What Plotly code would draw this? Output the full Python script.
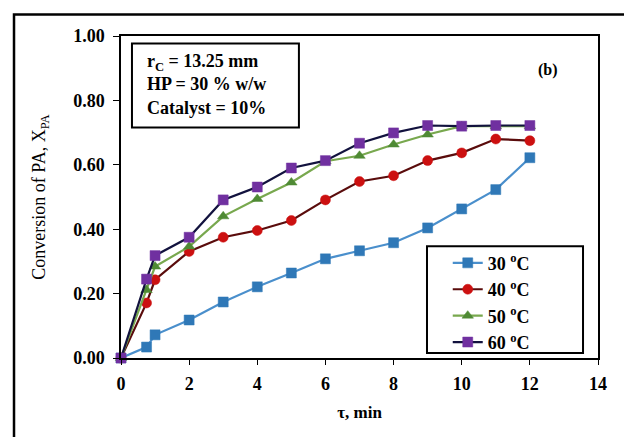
import plotly.graph_objects as go

tau = [0, 0.75, 1, 2, 3, 4, 5, 6, 7, 8, 9, 10, 11, 12]
x30 = [0, 0.034, 0.072, 0.118, 0.174, 0.221, 0.264, 0.308, 0.333, 0.358, 0.404, 0.463, 0.523, 0.622]
x40 = [0, 0.171, 0.243, 0.331, 0.375, 0.396, 0.427, 0.491, 0.548, 0.566, 0.613, 0.637, 0.680, 0.675]
x50 = [0, 0.211, 0.284, 0.346, 0.440, 0.494, 0.545, 0.611, 0.628, 0.663, 0.694, 0.720, 0.720, 0.720]
x60 = [0, 0.245, 0.318, 0.375, 0.491, 0.531, 0.590, 0.613, 0.667, 0.699, 0.722, 0.720, 0.722, 0.722]

series_names = ["30 <sup>o</sup>C", "40 <sup>o</sup>C", "50 <sup>o</sup>C", "60 <sup>o</sup>C"]
series_vals = [x30, x40, x50, x60]
line_colors = ["#4a8fcc", "#5a0c0c", "#78a84e", "#12123e"]
marker_colors = ["#2f78b7", "#cc1010", "#4f8a34", "#7030a0"]
marker_symbols = ["square", "circle", "triangle-up", "square"]

FONT = "Liberation Serif"

fig = go.Figure()
for name, vals, lc, mc, sym in zip(series_names, series_vals, line_colors, marker_colors, marker_symbols):
    fig.add_trace(go.Scatter(
        x=tau, y=vals, name=name, mode="lines+markers",
        line=dict(color=lc, width=2.2),
        marker=dict(symbol=sym, size=10, color=mc, line=dict(color=mc, width=0.5)),
        cliponaxis=False,
    ))

fig.update_layout(
    width=624, height=437,
    margin=dict(l=121, r=26, t=36, b=79),
    paper_bgcolor="white", plot_bgcolor="white",
    font=dict(family=FONT, color="black", size=16),
    showlegend=True,
    legend=dict(
        x=0.685, y=0.352, xanchor="left", yanchor="top",
        borderwidth=0, bgcolor="rgba(0,0,0,0)",
        font=dict(family=FONT, size=18, color="black", weight="bold"),
        itemwidth=30, tracegroupgap=0,
    ),
    xaxis=dict(
        range=[0, 14], dtick=2, tick0=0, showgrid=False, zeroline=False,
        showline=True, linecolor="black", linewidth=1.5, mirror=True,
        ticks="outside", ticklen=5, tickcolor="black", ticklabelstandoff=4,
        tickfont=dict(family=FONT, size=18, color="black", weight="bold"),
        title=dict(text="τ, min", font=dict(family=FONT, size=17, color="black", weight="bold"), standoff=13),
    ),
    yaxis=dict(
        range=[0, 1], dtick=0.2, tick0=0, tickformat=".2f", showgrid=False, zeroline=False,
        showline=True, linecolor="black", linewidth=1.5, mirror=True,
        ticks="outside", ticklen=6, tickcolor="black", ticklabelstandoff=5,
        tickfont=dict(family=FONT, size=18, color="black", weight="bold"),
        title=dict(text="Conversion of PA, X<sub>PA</sub>", font=dict(family=FONT, size=18, color="black"), standoff=23),
    ),
)

# annotation box
fig.add_shape(type="rect", xref="paper", yref="paper",
              x0=0.023, x1=0.373, y0=0.716, y1=0.977,
              line=dict(color="black", width=2), fillcolor="white", layer="above")
fig.add_annotation(
    xref="paper", yref="paper", x=0.05, y=0.85, xanchor="left", yanchor="middle",
    text="r<sub>C</sub> = 13.25 mm<br>HP = 30 % w/w<br>Catalyst = 10%",
    align="left", showarrow=False,
    font=dict(family=FONT, size=18, color="black", weight="bold"),
)
fig.add_annotation(
    xref="paper", yref="paper", x=0.895, y=0.893, xanchor="center", yanchor="middle",
    text="(b)", showarrow=False,
    font=dict(family=FONT, size=16, color="black", weight="bold"),
)

# legend box
fig.add_shape(type="rect", xref="paper", yref="paper",
              x0=0.6415, x1=0.9686, y0=0.0155, y1=0.347,
              line=dict(color="black", width=2), layer="above")

# outer frame (right and bottom edges lie outside the picture)
fig.add_shape(type="rect", xref="paper", yref="paper",
              x0=-0.2243, x1=1.08, y0=-0.26, y1=1.0667,
              line=dict(color="black", width=2.5), layer="above")

fig.write_html(
    "out.html",
    config={"displayModeBar": False},
    post_script="document.body.style.margin='0';document.body.style.overflow='hidden';",
)
